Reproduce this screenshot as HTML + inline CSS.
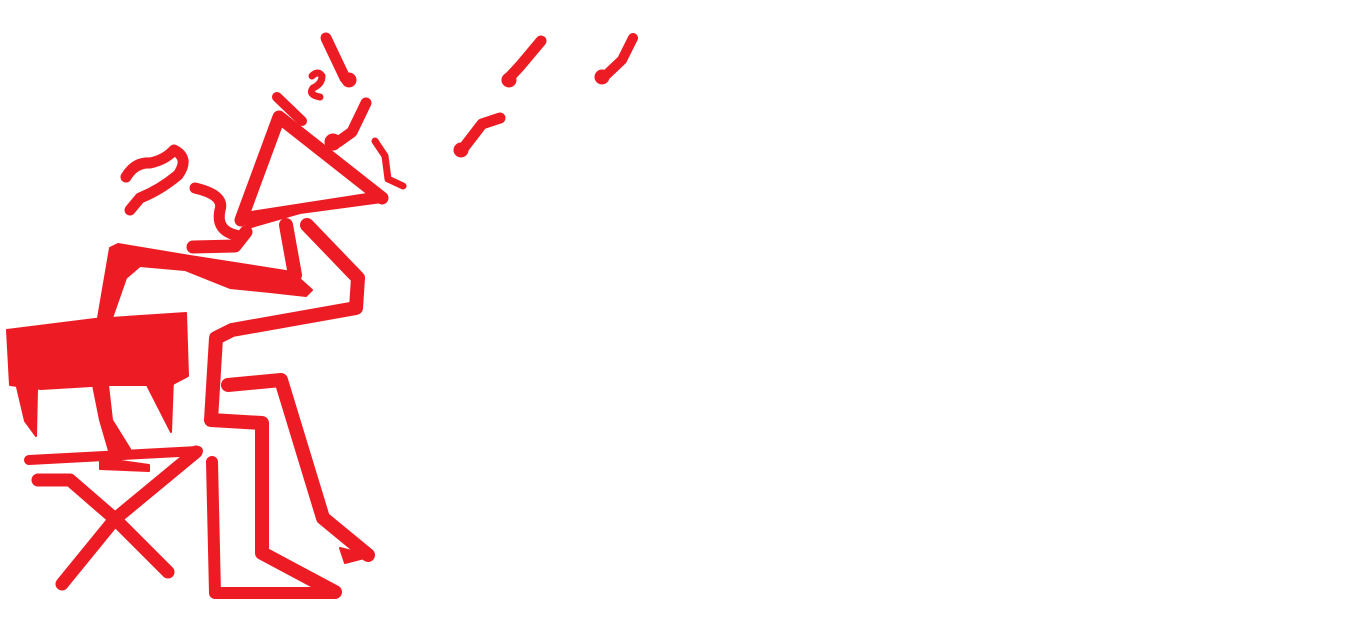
<!DOCTYPE html>
<html><head><meta charset="utf-8"><style>html,body{margin:0;padding:0;background:#fff;width:1350px;height:629px;overflow:hidden}</style></head>
<body>
<svg width="1350" height="629" viewBox="0 0 1350 629" xmlns="http://www.w3.org/2000/svg">
<g fill="#ED1C24" stroke="#ED1C24" stroke-linejoin="round" stroke-linecap="round">
<polygon stroke-width="2" points="7,330 95,319 186,313 188,376 171,385 108,385 41,389 10,385"/>
<polygon stroke-width="2" points="17,387 25,421 36,436 37,389"/>
<polygon stroke-width="2" points="146,383 171,432 173,379"/>
<polygon stroke-width="2" points="93,385 108,385 112,420 130,449 109,451 100,420"/>
<polyline fill="none" stroke-width="10" points="29,460 198,451"/>
<polygon stroke-width="2" points="100,458 149,465 149,471 100,469"/>
<polyline fill="none" stroke-width="13" points="196,452 115,519 62,584"/>
<polyline fill="none" stroke-width="13" points="38,480 70,480 115,519 168,572"/>
<polygon stroke-width="2" points="98,318 110,248 118,244 190,256 292,272 312,290 306,296 270,292 230,288 185,270 140,266 126,278 112,318"/>
<polyline fill="none" stroke-width="14" points="286,225 295,275"/>
<polyline fill="none" stroke-width="14" points="307,225 358,278 356,308 232,330 216,338 211,420 262,423 262,553 335,592"/>
<polyline fill="none" stroke-width="14" points="228,385 281,380 323,518 368,555"/>
<polygon stroke-width="2" points="340,548 372,556 345,563"/>
<polyline fill="none" stroke-width="12" points="212,462 215,593 334,593"/>
<polyline fill="none" stroke-width="13" points="241,220 279,117 382,198"/>
<polygon stroke-width="2" points="238,214 380,192 382,202 300,213 248,228"/>
<path fill="none" stroke-width="11" d="M195,188 Q225,195 220,210 Q215,232 240,236"/>
<polyline fill="none" stroke-width="13" points="193,247 235,246 246,232"/>
<path fill="none" stroke-width="11" d="M126,177 Q135,162 150,163 Q165,160 174,150 Q190,158 178,175 Q160,190 140,198 L130,210"/>
<polyline fill="none" stroke-width="10" points="277,97 302,121"/>
<path fill="none" stroke-width="7" d="M312,76 Q318,70 322,76 Q322,84 313,88 Q308,95 320,97"/>
<polyline fill="none" stroke-width="11" points="326,38 345,78"/>
<circle cx="349" cy="80" r="7"/>
<polyline fill="none" stroke-width="11" points="366,103 352,132 338,142"/>
<circle cx="333" cy="142" r="8"/>
<polyline fill="none" stroke-width="7" points="375,141 385,156 388,179 403,186"/>
<polyline fill="none" stroke-width="11" points="500,118 482,124 462,150"/>
<circle cx="461" cy="150" r="7"/>
<polyline fill="none" stroke-width="11" points="541,41 520,66 507,80"/>
<circle cx="509" cy="80" r="7"/>
<polyline fill="none" stroke-width="10" points="633,38 622,60 604,77"/>
<circle cx="602" cy="77" r="7"/>
</g>
</svg>
</body></html>
